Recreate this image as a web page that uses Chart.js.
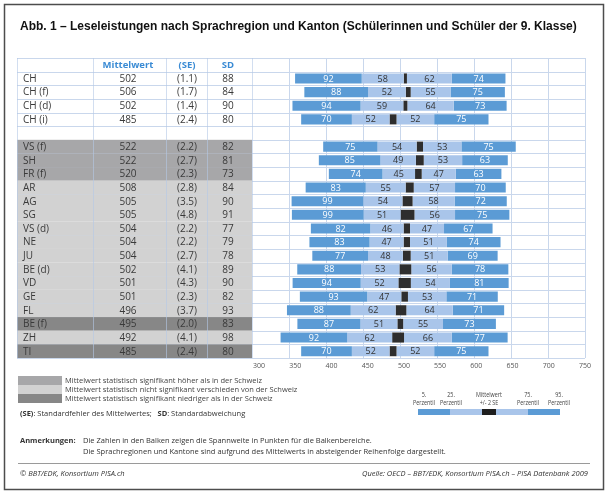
<!DOCTYPE html>
<html>
<head>
<meta charset="utf-8">
<script src="https://cdn.jsdelivr.net/npm/chart.js@4"></script>
<style>
html,body{margin:0;padding:0;background:#fff}
canvas{display:block}
</style>
</head>
<body>
<canvas id="grafik" width="608" height="495"></canvas>
<script>
// -------- DATEN
const regionen = ["CH","CH (f)","CH (d)","CH (i)","VS (f)","SH","FR (f)","AR","AG","SG","VS (d)","NE","JU","BE (d)","VD","GE","FL","BE (f)","ZH","TI"];
const mittelwert = [502,506,502,485,522,522,520,508,505,505,504,504,504,502,501,501,496,495,492,485];
const se = [1.1,1.7,1.4,2.4,2.2,2.7,2.3,2.8,3.5,4.8,2.2,2.2,2.7,4.1,4.3,2.3,3.7,2.0,4.1,2.4];
const sd = [88,84,90,80,82,81,73,84,90,91,77,79,78,89,90,82,93,83,98,80];
// Spannweiten in den Balken
const p5bis25 = [92,88,94,70,75,85,74,83,99,99,82,83,77,88,94,93,88,87,92,70];
const p25bisM = [58,52,59,52,54,49,45,55,54,51,46,47,48,53,52,47,62,51,62,52];
const mBis75 = [62,55,64,52,53,53,47,57,58,56,47,51,51,56,54,53,64,55,66,52];
const p75bis95 = [74,75,73,75,75,63,63,70,72,75,67,74,69,78,81,71,71,73,77,75];
// ch = Schweiz, hoch / gleich / tief = Vergleich mit der Schweiz
const gruppe = ["ch","ch","ch","ch","hoch","hoch","hoch","gleich","gleich","gleich","gleich","gleich","gleich","gleich","gleich","gleich","gleich","tief","gleich","tief"];
const xTicks = [300,350,400,450,500,550,600,650,700,750];

// Zeilen: Kopfzeile, 4x CH, Leerzeile, Kantone
const zeilen = [null,0,1,2,3,null,4,5,6,7,8,9,10,11,12,13,14,15,16,17,18,19];
const labels = zeilen.map(i => i === null ? "" : regionen[i]);

const FONT = "'Open Sans', 'Noto Sans', sans-serif";
const BLAU = "#5b9bd5";
const HELLBLAU = "#a9c5ea";
const DUNKEL = "#2e2e2e";
const GRAU = {hoch:"#a7a7a9", gleich:"#d2d2d2", tief:"#878787"};

const unten = i => mittelwert[i] - 2*se[i];
const oben = i => mittelwert[i] + 2*se[i];
function seg(f){ return zeilen.map(i => i === null ? null : f(i)); }

const d0 = seg(i => [unten(i)-p25bisM[i]-p5bis25[i], unten(i)-p25bisM[i]]);
const d1 = seg(i => [unten(i)-p25bisM[i], unten(i)]);
const d2 = seg(i => [unten(i), oben(i)]);
const d3 = seg(i => [oben(i), oben(i)+mBis75[i]]);
const d4 = seg(i => [oben(i)+mBis75[i], oben(i)+mBis75[i]+p75bis95[i]]);

const balkenText = [p5bis25, p25bisM, null, mBis75, p75bis95];

function t(ctx, s, x, y, font, color, align){
  ctx.font = font;
  ctx.fillStyle = color;
  ctx.textAlign = align || "left";
  ctx.textBaseline = "middle";
  ctx.fillText(s, x, y);
}
// schmale Schrift (gestaucht)
function schmal(ctx, s, x, y, font, color){
  ctx.save();
  ctx.translate(x, y);
  ctx.scale(0.72, 1);
  t(ctx, s, 0, 0, font, color, "center");
  ctx.restore();
}

// -------- Hintergrund, Tabelle, Gitter
const rahmen = {
  id:"rahmen",
  beforeDraw(chart){
    const ctx = chart.ctx, a = chart.chartArea, y = chart.scales.y;
    ctx.save();
    ctx.fillStyle = "#fff";
    ctx.fillRect(0,0,chart.width,chart.height);

    const halb = (y.getPixelForValue(1) - y.getPixelForValue(0)) / 2;

    // Gitter Tabelle + Diagramm
    ctx.strokeStyle = "#c9d7ec";
    ctx.lineWidth = 1;
    for(let r = 0; r <= zeilen.length; r++){
      const yy = Math.round(a.top + r*halb*2) + 0.5;
      ctx.beginPath(); ctx.moveTo(17, yy); ctx.lineTo(a.right, yy); ctx.stroke();
    }
    // Zeilenhintergrund
    zeilen.forEach((i, r) => {
      if(i === null || gruppe[i] === "ch") return;
      const yc = y.getPixelForValue(r);
      ctx.fillStyle = GRAU[gruppe[i]];
      ctx.fillRect(17, yc - halb, a.left - 17, halb*2);
    });
    const spalten = [17, 93, 166, 207, a.left];
    spalten.forEach(x => {
      ctx.strokeStyle = "rgba(180,200,230,0.6)";
      ctx.beginPath(); ctx.moveTo(x+0.5, a.top); ctx.lineTo(x+0.5, a.bottom); ctx.stroke();
    });
    ctx.strokeStyle = "#c9d7ec";
    for(let k = 1; k <= 9; k++){
      const xx = Math.round(a.left + k*(a.right-a.left)/9) + 0.5;
      ctx.beginPath(); ctx.moveTo(xx, a.top); ctx.lineTo(xx, a.bottom); ctx.stroke();
    }

    // Rahmen
    ctx.strokeStyle = "#4d4d4d";
    ctx.lineWidth = 1.5;
    ctx.strokeRect(4.5, 4.5, 599, 485);
    ctx.restore();
  },

  afterDatasetsDraw(chart){
    const ctx = chart.ctx;
    ctx.save();
    chart.data.datasets.forEach((ds, di) => {
      const werte = balkenText[di];
      if(!werte) return;
      chart.getDatasetMeta(di).data.forEach((el, r) => {
        const i = zeilen[r];
        if(i === null) return;
        const xm = (el.x + el.base) / 2;
        t(ctx, String(werte[i]), xm, el.y + 0.5, "9px " + FONT, (di === 0 || di === 4) ? "#ffffff" : "#333333", "center");
      });
    });
    ctx.restore();
  },

  afterDraw(chart){
    const ctx = chart.ctx, y = chart.scales.y;
    ctx.save();

    t(ctx, "Abb. 1 – Leseleistungen nach Sprachregion und Kanton (Schülerinnen und Schüler der 9. Klasse)", 20, 27, "bold 12px 'Liberation Sans', Arial, sans-serif", "#111", "left");

    // Tabelle
    const yh = y.getPixelForValue(0);
    const kopf = "bold 9.5px " + FONT;
    t(ctx, "Mittelwert", 128, yh, kopf, "#3a8bd4", "center");
    t(ctx, "(SE)", 187, yh, kopf, "#3a8bd4", "center");
    t(ctx, "SD", 228, yh, kopf, "#3a8bd4", "center");
    zeilen.forEach((i, r) => {
      if(i === null) return;
      const yy = y.getPixelForValue(r) + 0.5;
      const f = "10px " + FONT, c = "#3a3a3a";
      t(ctx, regionen[i], 23, yy, f, c, "left");
      t(ctx, String(mittelwert[i]), 128, yy, f, c, "center");
      t(ctx, "(" + se[i].toFixed(1) + ")", 187, yy, f, c, "center");
      t(ctx, String(sd[i]), 228, yy, f, c, "center");
    });

    // Legende links
    const leg = [["hoch","Mittelwert statistisch signifikant höher als in der Schweiz"],
                 ["gleich","Mittelwert statistisch nicht signifikant verschieden von der Schweiz"],
                 ["tief","Mittelwert statistisch signifikant niedriger als in der Schweiz"]];
    leg.forEach((l, k) => {
      ctx.fillStyle = GRAU[l[0]];
      ctx.fillRect(18, 376 + k*9, 44, 9);
      t(ctx, l[1], 65, 380.5 + k*9, "7.5px " + FONT, "#444", "left");
    });
    let x = 20;
    const teile = [["(SE)",true],[": Standardfehler des Mittelwertes;   ",false],["SD",true],[": Standardabweichung",false]];
    teile.forEach(p => {
      const f = (p[1] ? "bold " : "") + "7.5px " + FONT;
      t(ctx, p[0], x, 414, f, "#333", "left");
      ctx.font = f;
      x += ctx.measureText(p[0]).width;
    });

    // Legende rechts
    const nf = "7.5px " + FONT;
    const schl = [[424,"5.","Perzentil"],[451,"25.","Perzentil"],[489,"Mittelwert","+/- 2 SE"],[528,"75.","Perzentil"],[559,"95.","Perzentil"]];
    schl.forEach(s => {
      schmal(ctx, s[1], s[0], 395, nf, "#444");
      schmal(ctx, s[2], s[0], 403, nf, "#444");
    });
    const stuecke = [[418,450,BLAU],[450,482,HELLBLAU],[482,496,"#1e1e1e"],[496,528,HELLBLAU],[528,560,BLAU]];
    stuecke.forEach(s => { ctx.fillStyle = s[2]; ctx.fillRect(s[0], 409, s[1]-s[0], 6); });

    // Anmerkungen
    t(ctx, "Anmerkungen:", 20, 441, "bold 7.5px " + FONT, "#333", "left");
    t(ctx, "Die Zahlen in den Balken zeigen die Spannweite in Punkten für die Balkenbereiche.", 83, 441, "7.5px " + FONT, "#333", "left");
    t(ctx, "Die Sprachregionen und Kantone sind aufgrund des Mittelwerts in absteigender Reihenfolge dargestellt.", 83, 452, "7.5px " + FONT, "#333", "left");

    ctx.strokeStyle = "#9a9a9a";
    ctx.lineWidth = 1;
    ctx.beginPath(); ctx.moveTo(18, 463.5); ctx.lineTo(590, 463.5); ctx.stroke();

    t(ctx, "© BBT/EDK, Konsortium PISA.ch", 20, 474, "italic 7.5px " + FONT, "#333", "left");
    t(ctx, "Quelle: OECD – BBT/EDK, Konsortium PISA.ch – PISA Datenbank 2009", 588, 474, "italic 7.5px " + FONT, "#333", "right");
    ctx.restore();
  }
};

const farben = [BLAU, HELLBLAU, DUNKEL, HELLBLAU, BLAU];
const datasets = [d0, d1, d2, d3, d4].map((d, k) => ({
  data: d,
  backgroundColor: farben[k],
  borderWidth: 0,
  grouped: false,
  barPercentage: 0.74,
  categoryPercentage: 1
}));

new Chart(
document.getElementById("grafik"),
{
type:"bar",
data:{ labels: labels, datasets: datasets },
options:{
  responsive:false,
  animation:false,
  indexAxis:"y",
  layout:{ padding:{ left:252, right:23, top:58, bottom:123 } },
  plugins:{ legend:{display:false}, tooltip:{enabled:false} },
  scales:{
    x:{
      type:"linear",
      min: 300 - 7/((585-259)/450),
      max: 750,
      afterBuildTicks: s => { s.ticks = xTicks.map(v => ({value:v})); },
      afterFit: s => { s.height = 14; },
      grid:{ display:false, drawTicks:false },
      border:{ display:false },
      ticks:{ font:{size:7, family:FONT}, color:"#555", padding:4, maxRotation:0, autoSkip:false }
    },
    y:{
      type:"category",
      afterFit: s => { s.width = 0; },
      grid:{ display:false, drawTicks:false },
      border:{ display:false },
      ticks:{ display:false }
    }
  }
},
plugins:[rahmen]
}
);
</script>
</body>
</html>
